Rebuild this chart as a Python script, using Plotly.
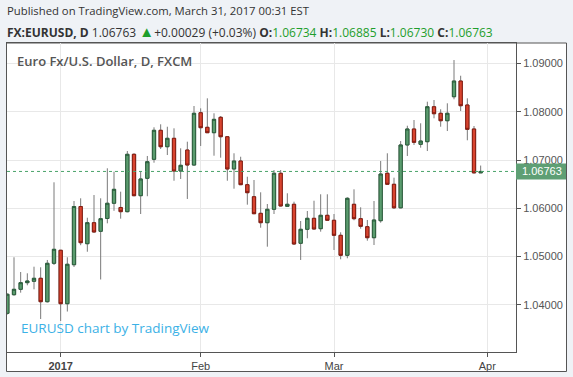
import plotly.graph_objects as go

# ---------------- data (EURUSD daily, FXCM) ----------------
opens = [1.03826, 1.04211, 1.04323, 1.04460, 1.04489, 1.04551, 1.04066, 1.04861, 1.05131, 1.04025,
         1.04832, 1.06037, 1.05267, 1.05702, 1.05524, 1.05789, 1.06104, 1.06017, 1.05930, 1.07118,
         1.06261, 1.06621, 1.07014, 1.07615, 1.07275, 1.07449, 1.06772, 1.07207, 1.06896, 1.07979,
         1.07677, 1.07565, 1.07884, 1.07482, 1.06814, 1.06979, 1.06489, 1.06240, 1.05896, 1.05702,
         1.05979, 1.06725, 1.06041, 1.06083, 1.05276, 1.05565, 1.05793, 1.05578, 1.05855, 1.05752,
         1.05441, 1.05027, 1.06083, 1.05785, 1.05619, 1.05391, 1.05743, 1.06725, 1.06497, 1.06010,
         1.07311, 1.07642, 1.07325, 1.07379, 1.08103, 1.07967, 1.07813, 1.08310, 1.08635, 1.08139,
         1.07642, 1.06734]
highs = [1.04240, 1.04986, 1.04681, 1.04654, 1.04791, 1.04779, 1.04930, 1.06538, 1.05140, 1.04986,
         1.06151, 1.06207, 1.05805, 1.06275, 1.06207, 1.06828, 1.06758, 1.06344, 1.07186, 1.07139,
         1.06758, 1.07083, 1.07677, 1.07739, 1.07689, 1.07656, 1.07242, 1.07379, 1.08118, 1.08070,
         1.08277, 1.07967, 1.07911, 1.07490, 1.07139, 1.07068, 1.06654, 1.06586, 1.06331, 1.06089,
         1.06793, 1.06793, 1.06311, 1.06137, 1.05737, 1.05944, 1.06157, 1.06290, 1.06290, 1.05882,
         1.05503, 1.06228, 1.06393, 1.06021, 1.05758, 1.06151, 1.06979, 1.07139, 1.06634, 1.07393,
         1.07710, 1.07828, 1.07760, 1.08207, 1.08242, 1.08050, 1.08174, 1.09070, 1.08745, 1.08277,
         1.07704, 1.06885]
lows = [1.03800, 1.04191, 1.04253, 1.04406, 1.04323, 1.03708, 1.04050, 1.04826, 1.03667, 1.03863,
        1.04785, 1.05236, 1.05101, 1.05499, 1.04526, 1.05689, 1.05948, 1.05785, 1.05917, 1.06250,
        1.05882, 1.06250, 1.06944, 1.07228, 1.07103, 1.06571, 1.06607, 1.06193, 1.06882, 1.07290,
        1.07560, 1.07089, 1.07048, 1.06571, 1.06406, 1.06480, 1.06075, 1.05880, 1.05598, 1.05205,
        1.05882, 1.06037, 1.06033, 1.05240, 1.04930, 1.05379, 1.05565, 1.05516, 1.05747, 1.05137,
        1.04944, 1.04965, 1.05752, 1.05578, 1.05329, 1.05240, 1.05702, 1.06490, 1.05986, 1.06000,
        1.07083, 1.07311, 1.07255, 1.07186, 1.07863, 1.07689, 1.07600, 1.08257, 1.08014, 1.07408,
        1.06720, 1.06730]
closes = [1.04220, 1.04323, 1.04460, 1.04495, 1.04551, 1.04066, 1.04861, 1.05151, 1.04025, 1.04841,
          1.06037, 1.05288, 1.05702, 1.05509, 1.05785, 1.06104, 1.06393, 1.05930, 1.07118, 1.06261,
          1.06607, 1.06965, 1.07615, 1.07275, 1.07449, 1.06772, 1.06890, 1.06896, 1.07967, 1.07669,
          1.07565, 1.07842, 1.07482, 1.06814, 1.06979, 1.06489, 1.06323, 1.05888, 1.05702, 1.05979,
          1.06725, 1.06048, 1.06083, 1.05261, 1.05565, 1.05793, 1.05571, 1.05855, 1.05752, 1.05441,
          1.05027, 1.06207, 1.05785, 1.05627, 1.05391, 1.05758, 1.06710, 1.06497, 1.06010, 1.07311,
          1.07642, 1.07366, 1.07393, 1.08103, 1.07958, 1.07813, 1.07967, 1.08635, 1.08124, 1.07635,
          1.06734, 1.06763]

tick_bar_index = [8, 29, 49, 72]
tick_labels = ["<b>2017</b>", "Feb", "Mar", "Apr"]
price_ticks = [1.04, 1.05, 1.06, 1.07, 1.08, 1.09]

# ---------------- layout geometry ----------------
W, H = 573, 377
ML, MR, MT, MB = 7, 57, 43, 25
PW, PH = W - ML - MR, H - MT - MB
Y_RANGE = [1.030248, 1.094224]


def px(x):
    return (x - ML) / PW


def py(y):
    return (H - MB - y) / PH


bars = list(range(len(opens)))
body_hi = [max(o, c) for o, c in zip(opens, closes)]
body_lo = [min(o, c) for o, c in zip(opens, closes)]

GREEN_FILL, GREEN_LINE = "#5a9c6e", "#2b5e3c"
RED_FILL, RED_LINE = "#d8442f", "#861b10"
WICK = "#7a7a7a"
AXIS = "#555555"
GRID = "#e8e8e8"

fig = go.Figure()
# wicks
fig.add_trace(go.Candlestick(
    x=bars, open=opens, high=highs, low=lows, close=closes,
    increasing=dict(line=dict(color=WICK, width=1), fillcolor=WICK),
    decreasing=dict(line=dict(color=WICK, width=1), fillcolor=WICK),
    showlegend=False, hoverinfo="skip"))
# bodies
fig.add_trace(go.Candlestick(
    x=bars, open=opens, high=body_hi, low=body_lo, close=closes,
    increasing=dict(line=dict(color=GREEN_LINE, width=1), fillcolor=GREEN_FILL),
    decreasing=dict(line=dict(color=RED_LINE, width=1), fillcolor=RED_FILL),
    showlegend=False))

last = closes[-1]
chg = closes[-1] - closes[-2]
pct = chg / closes[-2] * 100
px_per_price = PH / (Y_RANGE[1] - Y_RANGE[0])

shapes = [
    # outer white frame
    dict(type="rect", xref="paper", yref="paper", x0=px(6.5), x1=px(566.5),
         y0=py(371.5), y1=py(43), line=dict(color=AXIS, width=1),
         fillcolor="white", layer="below"),
    # last price dotted line
    dict(type="line", xref="paper", yref="y", x0=0, x1=1, y0=last, y1=last,
         line=dict(color="#4aa36a", width=1, dash="dot")),
    # last price label box
    dict(type="rect", xref="paper", yref="y", x0=1, x1=px(566),
         y0=last - 8 / px_per_price, y1=last + 8 / px_per_price,
         line=dict(width=0), fillcolor="#5e9f74", layer="above"),
]

GV = "#1e9e2c"
hdr2 = (f"<b>FX:EURUSD, D</b> {last:.5f} "
        f"<span style='color:{GV};font-size:15px'>▲</span>"
        f"{chg:+.5f} ({pct:+.2f}%) "
        f"<b>O:</b><span style='color:{GV}'>{opens[-1]:.5f}</span> "
        f"<b>H:</b><span style='color:{GV}'>{highs[-1]:.5f}</span> "
        f"<b>L:</b><span style='color:{GV}'>{lows[-1]:.5f}</span> "
        f"<b>C:</b><span style='color:{GV}'>{closes[-1]:.5f}</span>")

annotations = [
    dict(text="Published on TradingView.com, March 31, 2017 00:31 EST",
         xref="paper", yref="paper", x=px(5), y=py(11), xanchor="left", yanchor="middle",
         showarrow=False, font=dict(family="Open Sans", size=11.3, color="#333333")),
    dict(text=hdr2, xref="paper", yref="paper", x=px(5), y=py(30.5), xanchor="left",
         yanchor="middle", showarrow=False,
         font=dict(family="Open Sans", size=12, color="#333333")),
    dict(text="Euro Fx/U.S. Dollar, D, FXCM", xref="paper", yref="paper", x=px(15),
         y=py(61), xanchor="left", yanchor="middle", showarrow=False,
         font=dict(family="Open Sans", size=13, color="#555555", weight=600)),
    dict(text="EURUSD chart by TradingView", xref="paper", yref="paper", x=px(19),
         y=py(328), xanchor="left", yanchor="middle", showarrow=False,
         font=dict(family="Open Sans", size=13.5, color="#3cb1e6")),
    dict(text=f"{last:.5f}", xref="paper", yref="y", x=px(541.5), y=last,
         xanchor="center", yanchor="middle", showarrow=False,
         font=dict(family="Liberation Sans, Arial", size=11, color="white")),
]

fig.update_layout(
    width=W, height=H,
    margin=dict(l=ML, r=MR, t=MT, b=MB, pad=0, autoexpand=False),
    paper_bgcolor="#eff2f6", plot_bgcolor="white",
    shapes=shapes, annotations=annotations,
    showlegend=False,
    xaxis=dict(range=[-0.05, 76.3], tickmode="array", tickvals=tick_bar_index,
               ticktext=tick_labels, showgrid=True, gridcolor=GRID, gridwidth=1,
               zeroline=False, showline=True, linecolor=AXIS, linewidth=1, mirror=True,
               ticks="outside", ticklen=4, tickcolor=AXIS, automargin=False,
               tickfont=dict(family="Liberation Sans, Arial", size=11, color="#444444"),
               rangeslider=dict(visible=False), fixedrange=True),
    yaxis=dict(side="right", range=Y_RANGE, tickmode="array",
               tickvals=price_ticks, tickformat=".5f", showgrid=True, gridcolor=GRID,
               zeroline=False, showline=True, linecolor=AXIS, linewidth=1, mirror=True,
               ticks="outside", ticklen=4, tickcolor=AXIS, automargin=False,
               tickfont=dict(family="Liberation Sans, Arial", size=11, color="#555555"),
               fixedrange=True),
)

fig.write_html("out.html", config={"displayModeBar": False},
               post_script="document.body.style.margin='0';document.body.style.padding='0';")
